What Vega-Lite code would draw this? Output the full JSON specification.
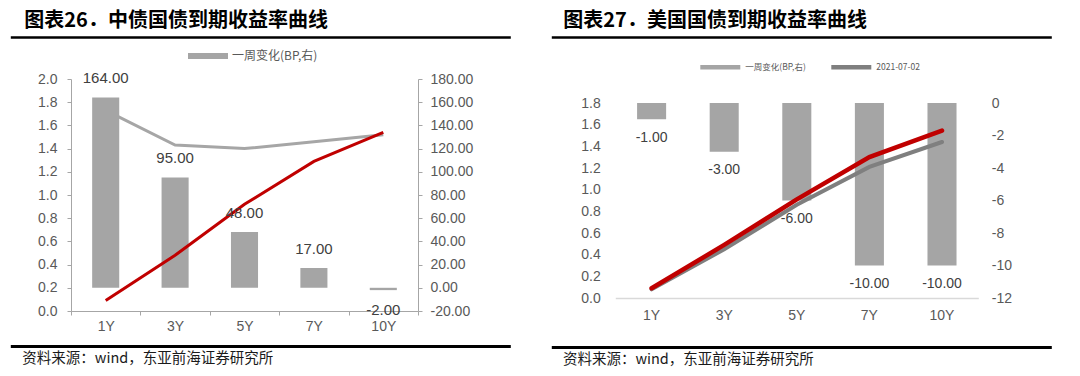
{
  "$schema": "https://vega.github.io/schema/vega-lite/v6.json",
  "background": "white",
  "padding": {"left": 10, "top": 10, "right": 0, "bottom": 0},
  "spacing": -19.7,
  "resolve": {"scale": {"color": "independent"}, "legend": {"color": "independent"}},
  "config": {
    "view": {"stroke": null},
    "font": "Liberation Sans",
    "title": {"font": "Noto Sans CJK SC", "color": "#000000"},
    "legend": {"labelFont": "Noto Sans CJK SC"},
    "locale": {"number": {"decimal": ".", "thousands": ",", "grouping": [3], "currency": ["$", ""], "minus": "-"}}
  },
  "hconcat": [
    {
      "spacing": 10,
      "resolve": {"scale": {"color": "independent"}, "legend": {"color": "independent"}},
      "vconcat": [
        {
          "width": 500, "height": 1,
          "data": {"values": [{"v": 0}]},
          "mark": {"type": "point", "opacity": 0},
          "encoding": {"x": {"field": "v", "type": "quantitative", "scale": {"domain": [0, 1]}, "axis": {"orient": "bottom", "position": -60.7, "domain": true, "domainColor": "#000000", "domainWidth": 2.5, "ticks": false, "labels": false, "grid": false, "title": null}}},
          "title": {"text": "图表26．中债国债到期收益率曲线", "anchor": "start", "frame": "group", "fontSize": 20, "fontWeight": "bold", "dx": -46.7, "offset": 3}
        },
        {
          "width": 347, "height": 232,
          "data": {"values": [
            {"term": "1Y", "chg": 164, "prev": 1.73, "cur": 0.09},
            {"term": "3Y", "chg": 95, "prev": 1.43, "cur": 0.48},
            {"term": "5Y", "chg": 48, "prev": 1.40, "cur": 0.92},
            {"term": "7Y", "chg": 17, "prev": 1.46, "cur": 1.29},
            {"term": "10Y", "chg": -2, "prev": 1.52, "cur": 1.54}
          ]},
          "encoding": {"x": {"field": "term", "type": "nominal", "sort": ["1Y", "3Y", "5Y", "7Y", "10Y"], "scale": {"paddingInner": 0, "paddingOuter": 0}, "axis": {"orient": "bottom", "title": null, "labelAngle": 0, "tickBand": "extent", "domainColor": "#a6a6a6", "tickColor": "#a6a6a6", "tickSize": 4, "labelPadding": 4, "labelFontSize": 14, "labelColor": "#595959"}}},
          "layer": [
            {
              "mark": {"type": "line", "color": "#a6a6a6", "strokeWidth": 3},
              "encoding": {"y": {"field": "prev", "type": "quantitative", "scale": {"domain": [0, 2], "nice": false}, "axis": {"orient": "left", "values": [0, 0.2, 0.4, 0.6, 0.8, 1, 1.2, 1.4, 1.6, 1.8, 2], "format": ".1f", "domainColor": "#a6a6a6", "tickColor": "#a6a6a6", "tickSize": 4, "labelPadding": 10, "labelFontSize": 14, "labelColor": "#595959", "grid": false, "title": null, "minExtent": 60.7}}}
            },
            {
              "mark": {"type": "bar", "width": {"band": 0.39}},
              "encoding": {
                "y": {"field": "chg", "type": "quantitative", "scale": {"domain": [-20, 180], "nice": false}, "axis": {"orient": "right", "values": [-20, 0, 20, 40, 60, 80, 100, 120, 140, 160, 180], "format": ".2f", "domainColor": "#a6a6a6", "tickColor": "#a6a6a6", "tickSize": 4, "labelPadding": 8, "labelFontSize": 14, "labelColor": "#595959", "grid": false, "title": null}},
                "color": {"datum": "一周变化(BP,右)", "scale": {"range": ["#a5a5a5"]}, "legend": {"orient": "none", "legendX": 131, "legendY": -29, "direction": "horizontal", "title": null, "symbolType": "M-4,-0.6H4V0.6H-4Z", "symbolSize": 100, "symbolStrokeWidth": 0, "labelFontSize": 12, "labelColor": "#595959", "labelOffset": 18}}
              }
            },
            {
              "mark": {"type": "line", "color": "#c00000", "strokeWidth": 3},
              "encoding": {"y": {"field": "cur", "type": "quantitative", "scale": {"domain": [0, 2], "nice": false}, "axis": null}}
            },
            {
              "transform": [{"filter": "datum.chg >= 0"}],
              "mark": {"type": "text", "dy": -19.5, "fontSize": 15, "color": "#404040"},
              "encoding": {"y": {"field": "chg", "type": "quantitative", "scale": {"domain": [-20, 180], "nice": false}, "axis": null}, "text": {"field": "chg", "type": "quantitative", "format": ".2f"}}
            },
            {
              "transform": [{"filter": "datum.chg < 0"}],
              "mark": {"type": "text", "dy": 20, "fontSize": 15, "color": "#404040"},
              "encoding": {"y": {"field": "chg", "type": "quantitative", "scale": {"domain": [-20, 180], "nice": false}, "axis": null}, "text": {"field": "chg", "type": "quantitative", "format": ".2f"}}
            }
          ],
          "resolve": {"scale": {"y": "independent"}}
        },
        {
          "width": 500, "height": 1,
          "data": {"values": [{"v": 0}]},
          "mark": {"type": "point", "opacity": 0},
          "encoding": {"x": {"field": "v", "type": "quantitative", "scale": {"domain": [0, 1]}, "axis": {"orient": "top", "position": -60.7, "domain": true, "domainColor": "#000000", "domainWidth": 3, "ticks": false, "labels": false, "grid": false, "title": null}}},
          "title": {"text": "资料来源：wind，东亚前海证券研究所", "orient": "bottom", "anchor": "start", "frame": "group", "fontSize": 14.5, "fontWeight": "normal", "color": "#1a1a1a", "dx": -48.7, "offset": 3}
        }
      ]
    },
    {
      "spacing": 22,
      "resolve": {"scale": {"color": "independent"}, "legend": {"color": "independent"}},
      "vconcat": [
        {
          "width": 500, "height": 1,
          "data": {"values": [{"v": 0}]},
          "mark": {"type": "point", "opacity": 0},
          "encoding": {"x": {"field": "v", "type": "quantitative", "scale": {"domain": [0, 1]}, "axis": {"orient": "bottom", "position": -64, "domain": true, "domainColor": "#000000", "domainWidth": 2.5, "ticks": false, "labels": false, "grid": false, "title": null}}},
          "title": {"text": "图表27．美国国债到期收益率曲线", "anchor": "start", "frame": "group", "fontSize": 20, "fontWeight": "bold", "dx": -52, "offset": 3}
        },
        {
          "width": 363, "height": 195,
          "data": {"values": [
            {"term": "1Y", "chg": -1, "prev": 0.08, "cur": 0.09},
            {"term": "3Y", "chg": -3, "prev": 0.45, "cur": 0.49},
            {"term": "5Y", "chg": -6, "prev": 0.86, "cur": 0.91},
            {"term": "7Y", "chg": -10, "prev": 1.21, "cur": 1.30},
            {"term": "10Y", "chg": -10, "prev": 1.44, "cur": 1.545}
          ]},
          "encoding": {"x": {"field": "term", "type": "nominal", "sort": ["1Y", "3Y", "5Y", "7Y", "10Y"], "scale": {"paddingInner": 0, "paddingOuter": 0}, "axis": {"orient": "bottom", "title": null, "labelAngle": 0, "domainColor": "#d9d9d9", "domainWidth": 1.5, "ticks": false, "labelPadding": 10, "labelFontSize": 14, "labelColor": "#595959"}}},
          "layer": [
            {
              "mark": {"type": "bar", "width": {"band": 0.4}},
              "encoding": {
                "y": {"field": "chg", "type": "quantitative", "scale": {"domain": [-12, 0], "nice": false}, "axis": {"orient": "right", "values": [-12, -10, -8, -6, -4, -2, 0], "format": "d", "domain": false, "ticks": false, "labelPadding": 13, "labelFontSize": 14, "labelColor": "#595959", "grid": false, "title": null}},
                "color": {"datum": "一周变化(BP,右)", "scale": {"domain": ["一周变化(BP,右)", "2021-07-02"], "range": ["#a5a5a5", "#7f7f7f"]}, "legend": {"orient": "none", "legendX": 100, "legendY": -41, "direction": "horizontal", "title": null, "symbolType": "M-4,-0.44H4V0.44H-4Z", "symbolSize": 100, "symbolStrokeWidth": 0, "labelFontSize": 8.5, "labelColor": "#595959", "labelOffset": 20, "columnPadding": 25}}
              }
            },
            {
              "mark": {"type": "line", "strokeWidth": 4, "strokeCap": "round"},
              "encoding": {
                "y": {"field": "prev", "type": "quantitative", "scale": {"domain": [0, 1.8], "nice": false}, "axis": {"orient": "left", "values": [0, 0.2, 0.4, 0.6, 0.8, 1, 1.2, 1.4, 1.6, 1.8], "format": ".1f", "domain": false, "ticks": false, "labelPadding": 15, "labelFontSize": 14, "labelColor": "#595959", "grid": false, "title": null, "minExtent": 64}},
                "color": {"datum": "2021-07-02"}
              }
            },
            {
              "mark": {"type": "line", "color": "#c00000", "strokeWidth": 4.5, "strokeCap": "round"},
              "encoding": {"y": {"field": "cur", "type": "quantitative", "scale": {"domain": [0, 1.8], "nice": false}, "axis": null}}
            },
            {
              "mark": {"type": "text", "dy": 18.5, "fontSize": 14, "color": "#404040"},
              "encoding": {"y": {"field": "chg", "type": "quantitative", "scale": {"domain": [-12, 0], "nice": false}, "axis": null}, "text": {"field": "chg", "type": "quantitative", "format": ".2f"}}
            }
          ],
          "resolve": {"scale": {"y": "independent"}}
        },
        {
          "width": 500, "height": 1,
          "data": {"values": [{"v": 0}]},
          "mark": {"type": "point", "opacity": 0},
          "encoding": {"x": {"field": "v", "type": "quantitative", "scale": {"domain": [0, 1]}, "axis": {"orient": "top", "position": -64, "domain": true, "domainColor": "#000000", "domainWidth": 3, "ticks": false, "labels": false, "grid": false, "title": null}}},
          "title": {"text": "资料来源：wind，东亚前海证券研究所", "orient": "bottom", "anchor": "start", "frame": "group", "fontSize": 14.5, "fontWeight": "normal", "color": "#1a1a1a", "dx": -52.4, "offset": 3}
        }
      ]
    }
  ]
}
